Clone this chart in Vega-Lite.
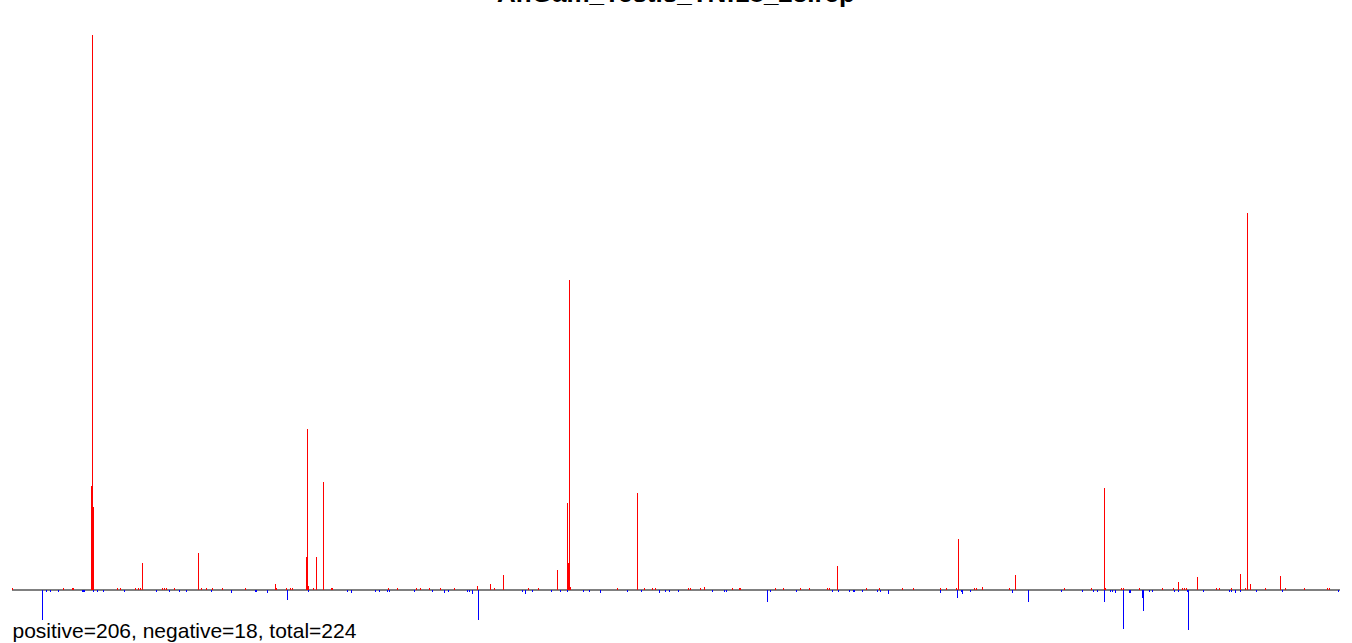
{
  "$schema": "https://vega.github.io/schema/vega-lite/v6.json",
  "autosize": "none",
  "width": 1328,
  "height": 602,
  "padding": {"left": 12, "top": 30, "right": 12, "bottom": 11},
  "background": "white",
  "config": {"view": {"stroke": null}},
  "title": {
    "text": "AnGam_Testis_TN:18_23.rep",
    "font": "Liberation Sans",
    "fontSize": 26,
    "fontWeight": "bold",
    "color": "black",
    "anchor": "middle",
    "baseline": "alphabetic",
    "offset": 2
  },
  "data": {
    "values": [
      {"pos": 12, "value": 2}, {"pos": 63, "value": 2}, {"pos": 72, "value": 2}, {"pos": 73, "value": 2},
      {"pos": 91, "value": 104}, {"pos": 92, "value": 555}, {"pos": 93, "value": 83},
      {"pos": 117, "value": 2}, {"pos": 120, "value": 2}, {"pos": 135, "value": 2}, {"pos": 138, "value": 2}, {"pos": 140, "value": 2},
      {"pos": 142, "value": 27}, {"pos": 162, "value": 2}, {"pos": 164, "value": 2}, {"pos": 166, "value": 2}, {"pos": 174, "value": 2},
      {"pos": 198, "value": 37}, {"pos": 201, "value": 2}, {"pos": 206, "value": 2}, {"pos": 212, "value": 2}, {"pos": 222, "value": 2},
      {"pos": 245, "value": 2}, {"pos": 275, "value": 6}, {"pos": 276, "value": 2}, {"pos": 286, "value": 2}, {"pos": 290, "value": 2},
      {"pos": 292, "value": 2}, {"pos": 306, "value": 33}, {"pos": 307, "value": 161}, {"pos": 308, "value": 4}, {"pos": 313, "value": 2},
      {"pos": 316, "value": 33}, {"pos": 323, "value": 108}, {"pos": 331, "value": 2}, {"pos": 332, "value": 2},
      {"pos": 388, "value": 2}, {"pos": 397, "value": 2}, {"pos": 416, "value": 2}, {"pos": 420, "value": 2}, {"pos": 429, "value": 2},
      {"pos": 440, "value": 2}, {"pos": 454, "value": 2}, {"pos": 477, "value": 4}, {"pos": 490, "value": 6}, {"pos": 494, "value": 2},
      {"pos": 503, "value": 15}, {"pos": 528, "value": 2}, {"pos": 538, "value": 2}, {"pos": 557, "value": 20},
      {"pos": 567, "value": 87}, {"pos": 568, "value": 27}, {"pos": 569, "value": 310}, {"pos": 570, "value": 3},
      {"pos": 617, "value": 2}, {"pos": 637, "value": 97}, {"pos": 644, "value": 2}, {"pos": 652, "value": 2}, {"pos": 655, "value": 2},
      {"pos": 688, "value": 2}, {"pos": 690, "value": 2}, {"pos": 700, "value": 2}, {"pos": 704, "value": 3}, {"pos": 732, "value": 2},
      {"pos": 739, "value": 2}, {"pos": 740, "value": 2}, {"pos": 775, "value": 2}, {"pos": 783, "value": 2}, {"pos": 800, "value": 2},
      {"pos": 809, "value": 2}, {"pos": 827, "value": 2}, {"pos": 829, "value": 2}, {"pos": 837, "value": 24}, {"pos": 866, "value": 2},
      {"pos": 879, "value": 2}, {"pos": 902, "value": 2}, {"pos": 913, "value": 2}, {"pos": 940, "value": 2}, {"pos": 946, "value": 2},
      {"pos": 956, "value": 2}, {"pos": 958, "value": 51}, {"pos": 974, "value": 2}, {"pos": 976, "value": 2}, {"pos": 982, "value": 3},
      {"pos": 1009, "value": 2}, {"pos": 1015, "value": 15}, {"pos": 1064, "value": 2}, {"pos": 1091, "value": 2}, {"pos": 1104, "value": 102},
      {"pos": 1105, "value": 2}, {"pos": 1121, "value": 2}, {"pos": 1123, "value": 2}, {"pos": 1139, "value": 2}, {"pos": 1162, "value": 2},
      {"pos": 1173, "value": 2}, {"pos": 1178, "value": 8}, {"pos": 1182, "value": 2}, {"pos": 1184, "value": 2}, {"pos": 1186, "value": 2},
      {"pos": 1197, "value": 13}, {"pos": 1216, "value": 2}, {"pos": 1219, "value": 2}, {"pos": 1231, "value": 2}, {"pos": 1240, "value": 16},
      {"pos": 1245, "value": 2}, {"pos": 1247, "value": 377}, {"pos": 1250, "value": 6}, {"pos": 1265, "value": 2}, {"pos": 1280, "value": 14},
      {"pos": 1285, "value": 2}, {"pos": 1304, "value": 2}, {"pos": 1327, "value": 2}, {"pos": 1329, "value": 2},
      {"pos": 42, "value": -30}, {"pos": 46, "value": -2}, {"pos": 50, "value": -2}, {"pos": 58, "value": -2}, {"pos": 82, "value": -2},
      {"pos": 83, "value": -2}, {"pos": 84, "value": -2}, {"pos": 93, "value": -2}, {"pos": 97, "value": -2}, {"pos": 103, "value": -2},
      {"pos": 124, "value": -2}, {"pos": 156, "value": -2}, {"pos": 169, "value": -2}, {"pos": 179, "value": -2}, {"pos": 186, "value": -2},
      {"pos": 211, "value": -2}, {"pos": 231, "value": -3}, {"pos": 255, "value": -2}, {"pos": 256, "value": -2}, {"pos": 267, "value": -3},
      {"pos": 287, "value": -10}, {"pos": 308, "value": -2}, {"pos": 347, "value": -2}, {"pos": 351, "value": -3}, {"pos": 375, "value": -2},
      {"pos": 379, "value": -2}, {"pos": 387, "value": -2}, {"pos": 389, "value": -2}, {"pos": 414, "value": -2}, {"pos": 432, "value": -2},
      {"pos": 444, "value": -3}, {"pos": 448, "value": -2}, {"pos": 467, "value": -2}, {"pos": 469, "value": -2}, {"pos": 472, "value": -4},
      {"pos": 478, "value": -30}, {"pos": 522, "value": -2}, {"pos": 525, "value": -4}, {"pos": 532, "value": -2}, {"pos": 551, "value": -2},
      {"pos": 560, "value": -2}, {"pos": 567, "value": -2}, {"pos": 583, "value": -2}, {"pos": 589, "value": -2}, {"pos": 600, "value": -3},
      {"pos": 627, "value": -2}, {"pos": 641, "value": -2}, {"pos": 659, "value": -3}, {"pos": 665, "value": -2}, {"pos": 669, "value": -2},
      {"pos": 678, "value": -2}, {"pos": 712, "value": -2}, {"pos": 724, "value": -2}, {"pos": 726, "value": -2}, {"pos": 767, "value": -12},
      {"pos": 770, "value": -2}, {"pos": 796, "value": -2}, {"pos": 832, "value": -2}, {"pos": 838, "value": -2}, {"pos": 849, "value": -2},
      {"pos": 853, "value": -2}, {"pos": 854, "value": -2}, {"pos": 862, "value": -2}, {"pos": 877, "value": -2}, {"pos": 880, "value": -2},
      {"pos": 888, "value": -4}, {"pos": 940, "value": -3}, {"pos": 957, "value": -8}, {"pos": 961, "value": -2}, {"pos": 962, "value": -4},
      {"pos": 970, "value": -2}, {"pos": 1012, "value": -3}, {"pos": 1028, "value": -12}, {"pos": 1061, "value": -2}, {"pos": 1082, "value": -2},
      {"pos": 1093, "value": -2}, {"pos": 1097, "value": -2}, {"pos": 1104, "value": -12}, {"pos": 1110, "value": -2}, {"pos": 1112, "value": -2},
      {"pos": 1115, "value": -3}, {"pos": 1123, "value": -39}, {"pos": 1129, "value": -3}, {"pos": 1130, "value": -3}, {"pos": 1142, "value": -8},
      {"pos": 1143, "value": -21}, {"pos": 1149, "value": -2}, {"pos": 1152, "value": -2}, {"pos": 1174, "value": -2}, {"pos": 1178, "value": -2},
      {"pos": 1187, "value": -2}, {"pos": 1188, "value": -40}, {"pos": 1203, "value": -2}, {"pos": 1229, "value": -2}, {"pos": 1231, "value": -2},
      {"pos": 1235, "value": -3}, {"pos": 1240, "value": -2}, {"pos": 1256, "value": -2}, {"pos": 1282, "value": -2}, {"pos": 1338, "value": -2}
    ]
  },
  "encoding": {
    "x": {
      "field": "pos",
      "type": "quantitative",
      "scale": {"domain": [11.5, 1339.5], "nice": false, "zero": false},
      "axis": {
        "title": "positive=206, negative=18, total=224",
        "domain": false,
        "ticks": false,
        "labels": false,
        "grid": false,
        "titleAnchor": "start",
        "titleAlign": "left",
        "titleBaseline": "alphabetic",
        "titleX": 0,
        "titleY": 5,
        "titleFont": "Liberation Sans",
        "titleFontSize": 21,
        "titleFontWeight": "normal",
        "titleColor": "black"
      }
    },
    "y": {
      "field": "value",
      "type": "quantitative",
      "scale": {"domain": [-42, 560], "nice": false, "zero": false},
      "axis": null
    }
  },
  "layer": [
    {
      "mark": {"type": "rule", "color": "#808080", "strokeWidth": 2},
      "encoding": {
        "x": {"value": 0},
        "x2": {"value": 1328},
        "y": {"datum": 0, "type": "quantitative"}
      }
    },
    {
      "mark": {"type": "rule", "strokeWidth": 1},
      "encoding": {
        "y2": {"datum": 0},
        "color": {
          "condition": {"test": "datum.value < 0", "value": "#0000ff"},
          "value": "#ff0000"
        }
      }
    }
  ]
}
